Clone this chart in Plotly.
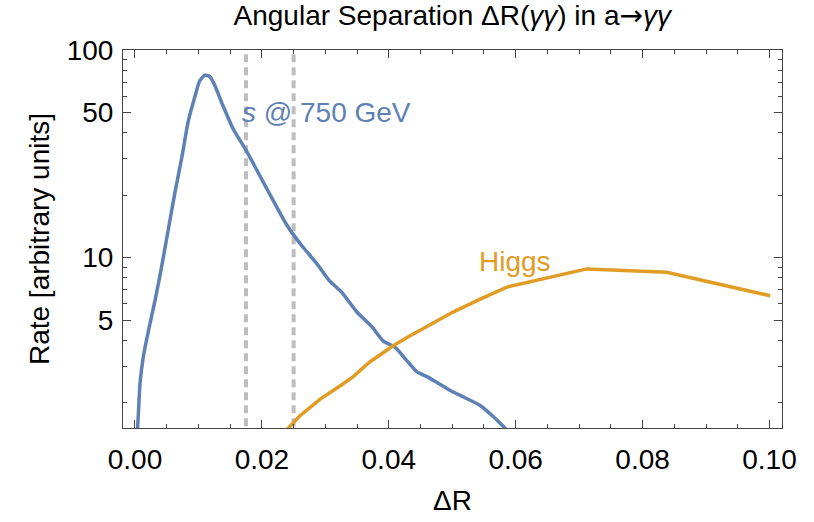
import plotly.graph_objects as go

# ---- data ----
signal_dr = [0.0000, 0.0004, 0.0008, 0.0013, 0.0021, 0.0032, 0.0042, 0.0052, 0.0063,
             0.0074, 0.0084, 0.0095, 0.0102, 0.0110, 0.0118, 0.0126, 0.0138, 0.0155,
             0.0175, 0.0208, 0.0239, 0.0263, 0.0286, 0.0307, 0.0326, 0.0349, 0.0373,
             0.0391, 0.0410, 0.0428, 0.0444, 0.0460, 0.0476, 0.0499, 0.0515, 0.0544,
             0.0565, 0.0583, 0.0595]
signal_rate = [1.2, 1.51, 2.49, 3.31, 4.41, 6.3, 9.05, 13.4, 20.6,
               30.6, 45.4, 60.5, 71.1, 75.6, 74.5, 67.3, 54.5, 41.5,
               32.9, 21.4, 14.4, 11.4, 9.4, 7.7, 6.8, 5.5, 4.66,
               3.97, 3.69, 3.2, 2.82, 2.67, 2.5, 2.27, 2.15, 1.94,
               1.71, 1.51, 1.4]

higgs_dr = [0.0235, 0.0242, 0.0260, 0.0292, 0.0326, 0.0344, 0.0370, 0.0407, 0.0428,
            0.0465, 0.0502, 0.0544, 0.0588, 0.0712, 0.0838, 0.1001]
higgs_rate = [1.42, 1.51, 1.73, 2.08, 2.44, 2.67, 3.14, 3.76, 4.11,
              4.75, 5.48, 6.31, 7.24, 8.82, 8.49, 6.55]

cut_lines = [0.0175, 0.025]

x_major = [0.00, 0.02, 0.04, 0.06, 0.08, 0.10]
x_labels = ["0.00", "0.02", "0.04", "0.06", "0.08", "0.10"]
y_major = [5, 10, 50, 100]
y_labels = ["5", "10", "50", "100"]
y_minor = [2, 3, 4, 6, 7, 8, 9, 20, 30, 40, 60, 70, 80, 90]

BLUE = "#5E81B5"
ORANGE = "#E19C24"
FONT = "Liberation Sans, Arial, sans-serif"
FS = 28

fig = go.Figure()

for xv in cut_lines:
    fig.add_trace(go.Scatter(x=[xv, xv], y=[1.0, 200], mode="lines",
                             line=dict(color="#BEBEBE", width=4, dash="8px,5px"),
                             hoverinfo="skip", showlegend=False))

fig.add_trace(go.Scatter(x=signal_dr, y=signal_rate, mode="lines",
                         line=dict(color=BLUE, width=3.5, shape="spline", smoothing=0.6),
                         showlegend=False))
fig.add_trace(go.Scatter(x=higgs_dr, y=higgs_rate, mode="lines",
                         line=dict(color=ORANGE, width=3.5), showlegend=False))

fig.add_annotation(x=0.01655, y=1.70, text="<i>s</i> @ 750 GeV", showarrow=False,
                   xanchor="left", yanchor="middle",
                   font=dict(family=FONT, size=FS, color=BLUE))
fig.add_annotation(x=0.0599, y=0.981, text="Higgs", showarrow=False,
                   xanchor="center", yanchor="middle",
                   font=dict(family=FONT, size=FS, color=ORANGE))

axis_common = dict(showline=True, linecolor="#444444", linewidth=1, mirror="ticks",
                   ticks="inside", tickcolor="#444444", tickwidth=1, ticklen=8,
                   showgrid=False, zeroline=False,
                   tickfont=dict(family=FONT, size=FS, color="black"))

fig.update_layout(
    width=814, height=522,
    margin=dict(l=123, r=32, t=50, b=82),
    paper_bgcolor="white", plot_bgcolor="white",
    title=dict(text='Angular Separation ΔR(<i>γγ</i>) in a<span style="font-family:DejaVu Sans">→</span><i>γγ</i>',
               x=0.5556, xanchor="center", y=1 - 15 / 522, yanchor="middle",
               font=dict(family=FONT, size=FS, color="black")),
    xaxis=dict(range=[-0.00189, 0.10197], tickvals=x_major, ticktext=x_labels,
               minor=dict(dtick=0.005, ticks="inside", ticklen=4, tickcolor="#444444"),
               title=dict(text="ΔR", font=dict(family=FONT, size=FS, color="black"),
                          standoff=16),
               ticklabelstandoff=6,
               **axis_common),
    yaxis=dict(type="log", range=[0.179, 2.0], tickvals=y_major, ticktext=y_labels,
               minor=dict(tickvals=y_minor, ticks="inside", ticklen=4, tickcolor="#444444"),
               title=dict(text="Rate [arbitrary units]",
                          font=dict(family=FONT, size=FS, color="black"), standoff=8),
               ticklabelstandoff=3,
               **axis_common),
)

fig.write_html("out.html")
